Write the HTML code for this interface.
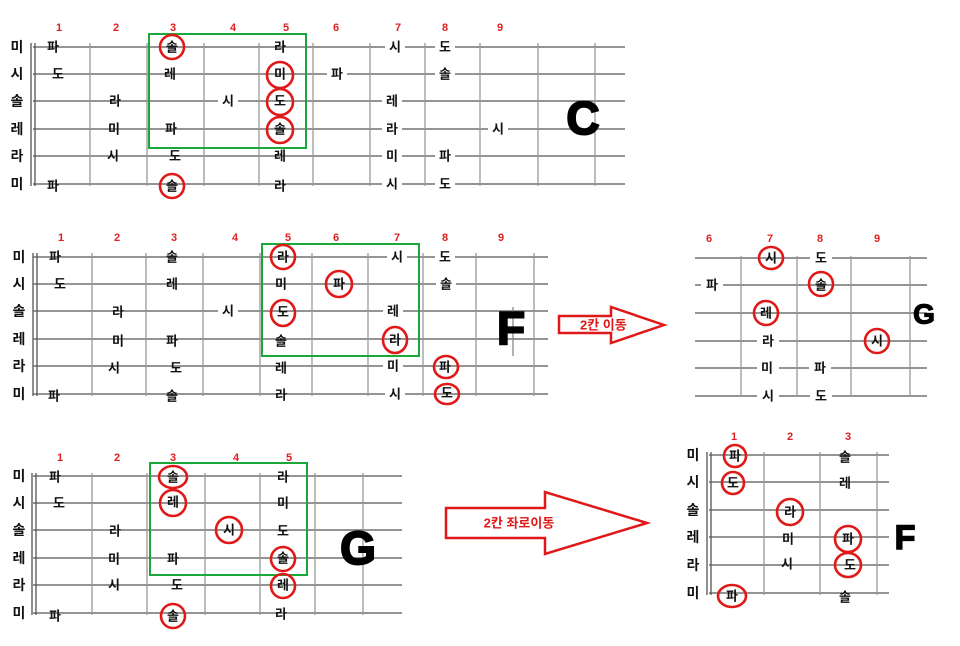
<!DOCTYPE html>
<html><head><meta charset="utf-8"><style>
html,body{margin:0;padding:0;background:#fff;width:960px;height:646px;overflow:hidden}
svg text{font-family:"Liberation Sans","Noto Sans CJK KR",sans-serif}
.n{font-size:13px;font-weight:bold;fill:#111;text-anchor:middle;dominant-baseline:central}
.s{font-size:14px;font-weight:bold;fill:#111;text-anchor:middle;dominant-baseline:central}
.f{font-size:11px;font-weight:bold;fill:#e02020;text-anchor:middle;dominant-baseline:central}
.st{stroke:#555;stroke-width:1.3}
.fr{stroke:#999;stroke-width:1.3}
.c{fill:none;stroke:#e01818;stroke-width:2.6}
.g{fill:none;stroke:#1aa83a;stroke-width:2}
.big{font-size:46px;font-weight:bold;fill:#000;stroke:#000;stroke-width:2;text-anchor:middle;dominant-baseline:central}
</style></head><body>
<svg width="960" height="646" xmlns="http://www.w3.org/2000/svg">
<!-- Diagram C -->
<g>
<line class="st" x1="33" y1="47" x2="625" y2="47"/><line class="st" x1="33" y1="74" x2="625" y2="74"/><line class="st" x1="33" y1="101" x2="625" y2="101"/><line class="st" x1="33" y1="129" x2="625" y2="129"/><line class="st" x1="33" y1="156" x2="625" y2="156"/><line class="st" x1="33" y1="184" x2="625" y2="184"/>
<line class="st" x1="31" y1="43" x2="31" y2="186"/><line class="st" x1="35" y1="43" x2="35" y2="186"/>
<line class="fr" x1="90" y1="43" x2="90" y2="186"/><line class="fr" x1="147" y1="43" x2="147" y2="186"/><line class="fr" x1="204" y1="43" x2="204" y2="186"/><line class="fr" x1="259" y1="43" x2="259" y2="186"/><line class="fr" x1="313" y1="43" x2="313" y2="186"/><line class="fr" x1="370" y1="43" x2="370" y2="186"/><line class="fr" x1="425" y1="43" x2="425" y2="186"/><line class="fr" x1="480" y1="43" x2="480" y2="186"/><line class="fr" x1="538" y1="43" x2="538" y2="186"/><line class="fr" x1="595" y1="43" x2="595" y2="186"/>
<rect class="g" x="149" y="34" width="157" height="114"/>
<text class="f" x="59" y="28">1</text><text class="f" x="116" y="28">2</text><text class="f" x="173" y="28">3</text><text class="f" x="233" y="28">4</text><text class="f" x="286" y="28">5</text><text class="f" x="336" y="28">6</text><text class="f" x="398" y="28">7</text><text class="f" x="445" y="28">8</text><text class="f" x="500" y="28">9</text>
<text class="s" x="17" y="47">미</text><text class="s" x="17" y="74">시</text><text class="s" x="17" y="101">솔</text><text class="s" x="17" y="129">레</text><text class="s" x="17" y="156">라</text><text class="s" x="17" y="184">미</text>
<g fill="#fff"><rect x="385" y="40" width="20" height="14"/><rect x="435" y="40" width="20" height="14"/><rect x="327" y="67" width="20" height="14"/><rect x="435" y="67" width="20" height="14"/><rect x="218" y="94" width="20" height="14"/><rect x="382" y="94" width="20" height="14"/><rect x="382" y="122" width="20" height="14"/><rect x="488" y="122" width="20" height="14"/><rect x="382" y="149" width="20" height="14"/><rect x="435" y="149" width="20" height="14"/><rect x="382" y="177" width="20" height="14"/><rect x="435" y="177" width="20" height="14"/></g>
<text class="n" x="53" y="47">파</text><text class="n" x="172" y="47">솔</text><text class="n" x="280" y="47">라</text><text class="n" x="395" y="47">시</text><text class="n" x="445" y="47">도</text>
<text class="n" x="58" y="74">도</text><text class="n" x="170" y="74">레</text><text class="n" x="280" y="74">미</text><text class="n" x="337" y="74">파</text><text class="n" x="445" y="74">솔</text>
<text class="n" x="115" y="101">라</text><text class="n" x="228" y="101">시</text><text class="n" x="280" y="101">도</text><text class="n" x="392" y="101">레</text>
<text class="n" x="114" y="129">미</text><text class="n" x="171" y="129">파</text><text class="n" x="280" y="129">솔</text><text class="n" x="392" y="129">라</text><text class="n" x="498" y="129">시</text>
<text class="n" x="113" y="156">시</text><text class="n" x="175" y="156">도</text><text class="n" x="280" y="156">레</text><text class="n" x="392" y="156">미</text><text class="n" x="445" y="156">파</text>
<text class="n" x="53" y="186">파</text><text class="n" x="172" y="186">솔</text><text class="n" x="280" y="186">라</text><text class="n" x="392" y="184">시</text><text class="n" x="445" y="184">도</text>
<ellipse class="c" cx="172" cy="47" rx="12" ry="12"/><ellipse class="c" cx="280" cy="75" rx="13" ry="13"/><ellipse class="c" cx="280" cy="102" rx="13" ry="13"/><ellipse class="c" cx="280" cy="130" rx="13" ry="13"/><ellipse class="c" cx="172" cy="186" rx="12" ry="12"/>
<text class="big" x="583" y="118">C</text>
</g>
<!-- Diagram F -->
<g>
<line class="st" x1="33" y1="257" x2="548" y2="257"/><line class="st" x1="33" y1="284" x2="548" y2="284"/><line class="st" x1="33" y1="311" x2="548" y2="311"/><line class="st" x1="33" y1="339" x2="548" y2="339"/><line class="st" x1="33" y1="366" x2="548" y2="366"/><line class="st" x1="33" y1="394" x2="548" y2="394"/>
<line class="st" x1="33" y1="253" x2="33" y2="396"/><line class="st" x1="37" y1="253" x2="37" y2="396"/>
<line class="fr" x1="92" y1="253" x2="92" y2="396"/><line class="fr" x1="146" y1="253" x2="146" y2="396"/><line class="fr" x1="203" y1="253" x2="203" y2="396"/><line class="fr" x1="260" y1="253" x2="260" y2="396"/><line class="fr" x1="312" y1="253" x2="312" y2="396"/><line class="fr" x1="368" y1="253" x2="368" y2="396"/><line class="fr" x1="423" y1="253" x2="423" y2="396"/><line class="fr" x1="476" y1="253" x2="476" y2="396"/><line class="fr" x1="534" y1="253" x2="534" y2="396"/>
<rect class="g" x="262" y="244" width="157" height="112"/>
<text class="f" x="61" y="238">1</text><text class="f" x="117" y="238">2</text><text class="f" x="174" y="238">3</text><text class="f" x="235" y="238">4</text><text class="f" x="288" y="238">5</text><text class="f" x="336" y="238">6</text><text class="f" x="397" y="238">7</text><text class="f" x="445" y="238">8</text><text class="f" x="501" y="238">9</text>
<text class="s" x="19" y="257">미</text><text class="s" x="19" y="284">시</text><text class="s" x="19" y="311">솔</text><text class="s" x="19" y="339">레</text><text class="s" x="19" y="366">라</text><text class="s" x="19" y="394">미</text>
<g fill="#fff"><rect x="387" y="250" width="20" height="14"/><rect x="435" y="250" width="20" height="14"/><rect x="436" y="277" width="20" height="14"/><rect x="218" y="304" width="20" height="14"/><rect x="383" y="304" width="20" height="14"/><rect x="383" y="359" width="20" height="14"/><rect x="385" y="387" width="20" height="14"/></g>
<text class="n" x="55" y="257">파</text><text class="n" x="172" y="257">솔</text><text class="n" x="283" y="257">라</text><text class="n" x="397" y="257">시</text><text class="n" x="445" y="257">도</text>
<text class="n" x="60" y="284">도</text><text class="n" x="172" y="284">레</text><text class="n" x="281" y="284">미</text><text class="n" x="339" y="284">파</text><text class="n" x="446" y="284">솔</text>
<text class="n" x="118" y="312">라</text><text class="n" x="228" y="311">시</text><text class="n" x="283" y="312">도</text><text class="n" x="393" y="311">레</text>
<text class="n" x="118" y="341">미</text><text class="n" x="172" y="341">파</text><text class="n" x="281" y="341">솔</text><text class="n" x="395" y="340">라</text>
<text class="n" x="114" y="368">시</text><text class="n" x="176" y="368">도</text><text class="n" x="281" y="368">레</text><text class="n" x="393" y="366">미</text><text class="n" x="445" y="367">파</text>
<text class="n" x="54" y="396">파</text><text class="n" x="172" y="396">솔</text><text class="n" x="281" y="395">라</text><text class="n" x="395" y="394">시</text><text class="n" x="447" y="393">도</text>
<ellipse class="c" cx="283" cy="257" rx="12" ry="12"/><ellipse class="c" cx="339" cy="284" rx="13" ry="13"/><ellipse class="c" cx="283" cy="313" rx="12" ry="13"/><ellipse class="c" cx="395" cy="340" rx="12" ry="13"/><ellipse class="c" cx="446" cy="367" rx="12" ry="11"/><ellipse class="c" cx="447" cy="394" rx="12" ry="10"/>
<line stroke="#888" stroke-width="1.3" x1="513" y1="307" x2="513" y2="356"/>
<text class="big" x="511" y="328">F</text>
</g>
<!-- Arrow 1 -->
<polygon points="559,316 611,316 611,307 664,325 611,343 611,333 559,333" fill="#fff" stroke="#e01818" stroke-width="2.5"/>
<text x="580" y="325" style="font-size:13px;font-weight:bold;fill:#e01818;dominant-baseline:central">2칸 이동</text>
<!-- Diagram G right -->
<g>
<line class="st" x1="695" y1="258" x2="927" y2="258"/><line class="st" x1="695" y1="285" x2="927" y2="285"/><line class="st" x1="695" y1="313" x2="927" y2="313"/><line class="st" x1="695" y1="341" x2="927" y2="341"/><line class="st" x1="695" y1="368" x2="927" y2="368"/><line class="st" x1="695" y1="396" x2="927" y2="396"/>
<line class="fr" x1="741" y1="256" x2="741" y2="396"/><line class="fr" x1="797" y1="256" x2="797" y2="396"/><line class="fr" x1="851" y1="256" x2="851" y2="396"/><line class="fr" x1="910" y1="256" x2="910" y2="396"/>
<text class="f" x="709" y="239">6</text><text class="f" x="770" y="239">7</text><text class="f" x="820" y="239">8</text><text class="f" x="877" y="239">9</text>
<g fill="#fff"><rect x="810" y="251" width="22" height="14"/><rect x="701" y="278" width="22" height="14"/><rect x="757" y="334" width="22" height="14"/><rect x="757" y="361" width="22" height="14"/><rect x="809" y="361" width="22" height="14"/><rect x="757" y="389" width="22" height="14"/><rect x="810" y="389" width="22" height="14"/></g>
<text class="n" x="771" y="258">시</text><text class="n" x="821" y="258">도</text>
<text class="n" x="712" y="285">파</text><text class="n" x="821" y="285">솔</text>
<text class="n" x="766" y="313">레</text>
<text class="n" x="768" y="341">라</text><text class="n" x="877" y="341">시</text>
<text class="n" x="767" y="368">미</text><text class="n" x="820" y="368">파</text>
<text class="n" x="768" y="396">시</text><text class="n" x="821" y="396">도</text>
<ellipse class="c" cx="771" cy="258" rx="12" ry="11"/><ellipse class="c" cx="821" cy="284" rx="12" ry="12"/><ellipse class="c" cx="766" cy="313" rx="12" ry="12"/><ellipse class="c" cx="877" cy="341" rx="12" ry="12"/>
<text class="big" x="924" y="314" style="font-size:28px;stroke-width:1.2">G</text>
</g>
<!-- Diagram G bottom -->
<g>
<line class="st" x1="33" y1="476" x2="402" y2="476"/><line class="st" x1="33" y1="503" x2="402" y2="503"/><line class="st" x1="33" y1="530" x2="402" y2="530"/><line class="st" x1="33" y1="558" x2="402" y2="558"/><line class="st" x1="33" y1="585" x2="402" y2="585"/><line class="st" x1="33" y1="613" x2="402" y2="613"/>
<line class="st" x1="32" y1="473" x2="32" y2="615"/><line class="st" x1="36" y1="473" x2="36" y2="615"/>
<line class="fr" x1="92" y1="473" x2="92" y2="615"/><line class="fr" x1="147" y1="473" x2="147" y2="615"/><line class="fr" x1="205" y1="473" x2="205" y2="615"/><line class="fr" x1="260" y1="473" x2="260" y2="615"/><line class="fr" x1="315" y1="473" x2="315" y2="615"/><line class="fr" x1="363" y1="473" x2="363" y2="615"/>
<rect class="g" x="150" y="463" width="157" height="112"/>
<text class="f" x="60" y="458">1</text><text class="f" x="117" y="458">2</text><text class="f" x="173" y="458">3</text><text class="f" x="236" y="458">4</text><text class="f" x="289" y="458">5</text>
<text class="s" x="19" y="476">미</text><text class="s" x="19" y="503">시</text><text class="s" x="19" y="530">솔</text><text class="s" x="19" y="558">레</text><text class="s" x="19" y="585">라</text><text class="s" x="19" y="613">미</text>
<text class="n" x="55" y="477">파</text><text class="n" x="173" y="477">솔</text><text class="n" x="283" y="477">라</text>
<text class="n" x="59" y="503">도</text><text class="n" x="173" y="502">레</text><text class="n" x="283" y="503">미</text>
<text class="n" x="115" y="531">라</text><text class="n" x="229" y="530">시</text><text class="n" x="283" y="531">도</text>
<text class="n" x="114" y="559">미</text><text class="n" x="173" y="559">파</text><text class="n" x="283" y="558">솔</text>
<text class="n" x="114" y="585">시</text><text class="n" x="177" y="585">도</text><text class="n" x="283" y="585">레</text>
<text class="n" x="55" y="616">파</text><text class="n" x="173" y="616">솔</text><text class="n" x="281" y="614">라</text>
<ellipse class="c" cx="173" cy="477" rx="14" ry="11"/><ellipse class="c" cx="173" cy="503" rx="13" ry="13"/><ellipse class="c" cx="229" cy="530" rx="13" ry="13"/><ellipse class="c" cx="283" cy="559" rx="12" ry="12"/><ellipse class="c" cx="283" cy="586" rx="12" ry="12"/><ellipse class="c" cx="173" cy="616" rx="12" ry="12"/>
<text class="big" x="358" y="548">G</text>
</g>
<!-- Arrow 2 -->
<polygon points="446,508 545,508 545,492 647,523 545,554 545,538 446,538" fill="#fff" stroke="#e01818" stroke-width="2.5"/>
<text x="519" y="523" style="font-size:13px;font-weight:bold;fill:#e01818;text-anchor:middle;dominant-baseline:central">2칸 좌로이동</text>
<!-- Diagram F small -->
<g>
<line class="st" x1="709" y1="455" x2="889" y2="455"/><line class="st" x1="709" y1="482" x2="889" y2="482"/><line class="st" x1="709" y1="510" x2="889" y2="510"/><line class="st" x1="709" y1="537" x2="889" y2="537"/><line class="st" x1="709" y1="565" x2="889" y2="565"/><line class="st" x1="709" y1="593" x2="889" y2="593"/>
<line class="st" x1="707" y1="452" x2="707" y2="595"/><line class="st" x1="711" y1="452" x2="711" y2="595"/>
<line class="fr" x1="764" y1="452" x2="764" y2="595"/><line class="fr" x1="820" y1="452" x2="820" y2="595"/><line class="fr" x1="877" y1="452" x2="877" y2="595"/>
<text class="f" x="734" y="437">1</text><text class="f" x="790" y="437">2</text><text class="f" x="848" y="437">3</text>
<text class="s" x="693" y="455">미</text><text class="s" x="693" y="482">시</text><text class="s" x="693" y="510">솔</text><text class="s" x="693" y="537">레</text><text class="s" x="693" y="565">라</text><text class="s" x="693" y="593">미</text>
<text class="n" x="735" y="456">파</text><text class="n" x="845" y="457">솔</text>
<text class="n" x="733" y="483">도</text><text class="n" x="845" y="483">레</text>
<text class="n" x="790" y="512">라</text>
<text class="n" x="788" y="539">미</text><text class="n" x="848" y="539">파</text>
<text class="n" x="787" y="564">시</text><text class="n" x="850" y="565">도</text>
<text class="n" x="732" y="596">파</text><text class="n" x="845" y="597">솔</text>
<ellipse class="c" cx="735" cy="456" rx="11" ry="11"/><ellipse class="c" cx="733" cy="483" rx="11" ry="11"/><ellipse class="c" cx="790" cy="512" rx="13" ry="13"/><ellipse class="c" cx="848" cy="539" rx="13" ry="13"/><ellipse class="c" cx="848" cy="565" rx="13" ry="12"/><ellipse class="c" cx="732" cy="596" rx="14" ry="11"/>
<text class="big" x="905" y="538" style="font-size:34px;stroke-width:1.5">F</text>
</g>
</svg>
</body></html>
